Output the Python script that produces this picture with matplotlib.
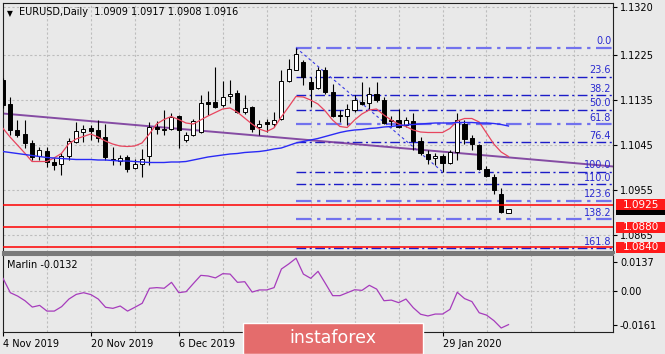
import matplotlib
matplotlib.use('Agg')
import matplotlib.pyplot as plt
import matplotlib.transforms as mtransforms
from matplotlib.patches import Rectangle

# EURUSD daily bars, 4 Nov 2019 .. 11 Feb 2020
opens = [1.1174, 1.1127, 1.1074, 1.1066, 1.1049, 1.1023, 1.1033, 1.1011, 1.1006, 1.1023,
         1.1051, 1.1070, 1.1079, 1.1074, 1.1059, 1.1017, 1.1013, 1.1019, 1.0998, 1.1007,
         1.1022, 1.1081, 1.1074, 1.1077, 1.1102, 1.1055, 1.1064, 1.1071, 1.1131, 1.1131,
         1.1124, 1.1143, 1.1149, 1.1111, 1.1119, 1.1081, 1.1091, 1.1086, 1.1097, 1.1173,
         1.1195, 1.1211, 1.1171, 1.1159, 1.1194, 1.1151, 1.1104, 1.1102, 1.1114, 1.1131,
         1.1129, 1.1147, 1.1134, 1.1095, 1.1095, 1.1084, 1.1093, 1.1053, 1.1027, 1.1019,
         1.1022, 1.1009, 1.1031, 1.1087, 1.1059, 1.1044, 1.0997, 1.0981, 1.0946, 1.0909]
highs = [1.1178, 1.1141, 1.1094, 1.1094, 1.1054, 1.1040, 1.1041, 1.1021, 1.1028, 1.1058,
         1.1091, 1.1084, 1.1084, 1.1095, 1.1087, 1.1041, 1.1024, 1.1024, 1.1017, 1.1037,
         1.1091, 1.1093, 1.1115, 1.1109, 1.1104, 1.1071, 1.1097, 1.1144, 1.1152, 1.1200,
         1.1173, 1.1174, 1.1154, 1.1144, 1.1122, 1.1094, 1.1097, 1.1111, 1.1194, 1.1217,
         1.1239, 1.1215, 1.1181, 1.1201, 1.1201, 1.1167, 1.1115, 1.1127, 1.1144, 1.1171,
         1.1161, 1.1171, 1.1141, 1.1102, 1.1117, 1.1101, 1.1109, 1.1061, 1.1035, 1.1029,
         1.1026, 1.1034, 1.1109, 1.1094, 1.1064, 1.1047, 1.1002, 1.0986, 1.0959, 1.0917]
lows = [1.1118, 1.1064, 1.1060, 1.1038, 1.1014, 1.1014, 1.1001, 1.0994, 1.0984, 1.1014,
        1.1049, 1.1051, 1.1054, 1.1051, 1.1014, 1.1004, 1.1004, 1.0991, 1.0997, 1.0981,
        1.1004, 1.1067, 1.1064, 1.1074, 1.1039, 1.1051, 1.1062, 1.1069, 1.1104, 1.1118,
        1.1121, 1.1129, 1.1109, 1.1106, 1.1071, 1.1064, 1.1071, 1.1081, 1.1094, 1.1171,
        1.1194, 1.1164, 1.1121, 1.1157, 1.1147, 1.1101, 1.1091, 1.1084, 1.1111, 1.1124,
        1.1117, 1.1131, 1.1087, 1.1081, 1.1079, 1.1081, 1.1035, 1.1024, 1.1007, 1.1004,
        1.0991, 1.1007, 1.1014, 1.1047, 1.1034, 1.0995, 1.0981, 1.0947, 1.0909, 1.0908]
closes = [1.1124, 1.1074, 1.1064, 1.1049, 1.1021, 1.1034, 1.1011, 1.1005, 1.1023, 1.1053,
          1.1073, 1.1077, 1.1072, 1.1058, 1.1021, 1.1014, 1.1019, 1.0997, 1.1007, 1.1017,
          1.1079, 1.1077, 1.1077, 1.1101, 1.1074, 1.1064, 1.1092, 1.1129, 1.1127, 1.1121,
          1.1141, 1.1147, 1.1111, 1.1119, 1.1077, 1.1086, 1.1087, 1.1095, 1.1173, 1.1197,
          1.1227, 1.1181, 1.1157, 1.1194, 1.1151, 1.1102, 1.1103, 1.1117, 1.1134, 1.1127,
          1.1147, 1.1134, 1.1089, 1.1093, 1.1081, 1.1094, 1.1053, 1.1029, 1.1017, 1.1022,
          1.1009, 1.1031, 1.1094, 1.1057, 1.1047, 1.0997, 1.0982, 1.0954, 1.0911, 1.0916]

ma_red = [1.1078, 1.1060, 1.1044, 1.1028, 1.1011, 1.1011, 1.1011, 1.1018, 1.1027, 1.1046,
          1.1056, 1.1061, 1.1066, 1.1060, 1.1052, 1.1046, 1.1042, 1.1041, 1.1042, 1.1048,
          1.1066, 1.1086, 1.1095, 1.1101, 1.1095, 1.1088, 1.1086, 1.1094, 1.1102, 1.1109,
          1.1116, 1.1118, 1.1110, 1.1098, 1.1086, 1.1076, 1.1071, 1.1078, 1.1100, 1.1120,
          1.1141, 1.1140, 1.1134, 1.1126, 1.1112, 1.1094, 1.1081, 1.1079, 1.1094, 1.1106,
          1.1114, 1.1116, 1.1104, 1.1094, 1.1086, 1.1081, 1.1074, 1.1070, 1.1069, 1.1069,
          1.1069, 1.1077, 1.1092, 1.1097, 1.1097, 1.1090, 1.1068, 1.1046, 1.1030, 1.1021]
ma_blue = [1.1031, 1.1029, 1.1027, 1.1025, 1.1023, 1.1021, 1.1019, 1.1018, 1.1017, 1.1016,
           1.1015, 1.1015, 1.1015, 1.1014, 1.1014, 1.1013, 1.1012, 1.1012, 1.1011, 1.1010,
           1.1009, 1.1009, 1.1009, 1.1010, 1.1010, 1.1011, 1.1014, 1.1017, 1.1020, 1.1022,
           1.1024, 1.1026, 1.1027, 1.1029, 1.1030, 1.1031, 1.1033, 1.1036, 1.1038, 1.1043,
           1.1048, 1.1051, 1.1054, 1.1057, 1.1061, 1.1065, 1.1069, 1.1072, 1.1074, 1.1075,
           1.1077, 1.1078, 1.1080, 1.1081, 1.1083, 1.1084, 1.1085, 1.1086, 1.1087, 1.1088,
           1.1088, 1.1088, 1.1089, 1.1089, 1.1089, 1.1088, 1.1088, 1.1087, 1.1085, 1.1082]
marlin = [0.0060, -0.0008, -0.0024, -0.0046, -0.0076, -0.0068, -0.0095, -0.0095, -0.0074, -0.0038,
          -0.0016, -0.0008, -0.0017, -0.0038, -0.0077, -0.0082, -0.0071, -0.0095, -0.0077, -0.0058,
          0.0013, 0.0016, 0.0013, 0.0041, -0.0008, -0.0003, 0.0036, 0.0074, 0.0071, 0.0062,
          0.0082, 0.0080, 0.0041, 0.0044, -0.0005, 0.0005, 0.0005, 0.0016, 0.0104, 0.0128,
          0.0155, 0.0080, 0.0060, 0.0093, 0.0036, -0.0022, -0.0022, -0.0008, 0.0006, 0.0003,
          0.0027, 0.0009, -0.0046, -0.0043, -0.0055, -0.0038, -0.0079, -0.0110, -0.0118, -0.0109,
          -0.0109, -0.0087, -0.0006, -0.0036, -0.0050, -0.0103, -0.0114, -0.0140, -0.0175, -0.0159]

# date ticks every 12 bars; the two under the watermark are not visible
date_idx = [0, 12, 24, 36, 48, 60]
date_labels = ['4 Nov 2019', '20 Nov 2019', '6 Dec 2019', '', '', '29 Jan 2020']
price_ticks = [1.1320, 1.1225, 1.1135, 1.1045, 1.0955, 1.0865]
marlin_ticks = [0.0137, 0.0, -0.0161]
marlin_tick_labels = ['0.0137', '0.00', '-0.0161']

# fibonacci from the 31 Dec high to the 29 Jan low
fib_start, fib_end = 40, 60
fib_high, fib_low = 1.12386, 1.09906
fib_levels = [0.0, 23.6, 38.2, 50.0, 61.8, 76.4, 100.0, 110.0, 123.6, 138.2, 161.8]
fib_light = [0.0, 61.8, 123.6, 138.2]

trend_idx = [0, 83.3]
trend_price = [1.1107, 1.1001]
red_levels = [1.0925, 1.0880, 1.0840]
last_price = 1.0916

bg = '#e9e9e9'
fig = plt.figure(figsize=(6.65, 3.54), dpi=100, facecolor=bg)
W, H = 665, 354
ax = fig.add_axes([3 / W, (H - 252) / H, 610 / W, 249 / H], facecolor=bg)
ax2 = fig.add_axes([3 / W, (H - 332) / H, 610 / W, 77 / H], facecolor=bg)

n = len(opens)
xs = list(range(n))
x0, x1 = 0.04, 83.26
for a in (ax, ax2):
    a.set_xlim(x0, x1)
    for g in range(6, 84, 6):
        a.axvline(g, color='#bdbdbd', lw=0.8, ls=(0, (2, 2)), zorder=0)
ax.set_ylim(1.0830, 1.1328)
ax2.set_ylim(-0.01939, 0.01703)

# grid
for p in price_ticks:
    ax.axhline(p, color='#bdbdbd', lw=0.8, ls=(0, (2, 2)), zorder=0)
ax2.axhline(0.0, color='#bdbdbd', lw=0.8, ls=(0, (2, 2)), zorder=0)

# fibonacci levels
span = fib_high - fib_low
tr = mtransforms.blended_transform_factory(ax.transAxes, ax.transData)
for lv in fib_levels:
    price = fib_high - lv / 100 * span
    light = lv in fib_light
    ax.plot([fib_start, x1], [price, price], color='#7272ee' if light else '#1c1cc8',
            lw=1.6 if light else 1.0, ls=(0, (7, 2.5, 1.5, 2.5)), zorder=1, solid_capstyle='butt')
    ax.text(0.997, price + 0.0003, f'{lv:.1f}', transform=tr,
            ha='right', va='bottom', fontsize=7, color='#2a2ad0', zorder=6)
ax.plot([fib_start, fib_end], [fib_high, fib_low], color='#3a3ae6', lw=0.8, ls=(0, (2.5, 2.5)), zorder=1)

# trend line
ax.plot(trend_idx, trend_price, color='#7a3a9c', lw=1.4, zorder=2, alpha=0.9)

# candles
for i in xs:
    o, h, l, c = opens[i], highs[i], lows[i], closes[i]
    ax.vlines(i, l, h, color='black', lw=0.8, zorder=3)
    lo, hi = min(o, c), max(o, c)
    ax.bar(i, max(hi - lo, 0.00008), bottom=lo, width=0.56,
           color='black' if c < o else 'white', edgecolor='black', linewidth=0.7, zorder=4)

# moving averages
ax.plot(xs, ma_red, color='#e8455e', lw=0.9, zorder=5)
ax.plot(xs, ma_blue, color='#2a2af5', lw=1.0, zorder=5)

# support levels
for p in red_levels:
    ax.axhline(p, color='#ff0000', lw=1.1, zorder=5)

# price scale
ax.yaxis.tick_right()
ax.set_yticks(price_ticks)
ax.set_yticklabels([f'{p:.4f}' for p in price_ticks])
ax.tick_params(axis='y', length=3, width=0.8, pad=2, labelsize=7)
ax.set_xticks([])

box_h = 0.0022
box_x = 1.005
box_w = (665 - 616) / 610
ax.add_patch(Rectangle((box_x, last_price - box_h / 2), box_w, box_h, transform=tr,
                       facecolor='black', edgecolor='none', clip_on=False, zorder=7))
for p in red_levels:
    ax.add_patch(Rectangle((box_x, p - box_h / 2), box_w, box_h, transform=tr,
                           facecolor='#ff1a1a', edgecolor='none', clip_on=False, zorder=8))
    ax.text(box_x + box_w / 2, p, f'{p:.4f}', transform=tr, ha='center', va='center',
            fontsize=7.5, color='white', zorder=9, clip_on=False)

for s in ax.spines.values():
    s.set_color('#202020')
    s.set_linewidth(0.8)
ax.spines['bottom'].set_color('#7a7a7a')
ax.spines['bottom'].set_linewidth(2.2)

# Marlin oscillator
ax2.plot(xs, marlin, color='#a63cbc', lw=0.9, zorder=3)
ax2.yaxis.tick_right()
ax2.set_yticks(marlin_ticks)
ax2.set_yticklabels(marlin_tick_labels)
ax2.tick_params(axis='y', length=3, width=0.8, pad=2, labelsize=7)
ax2.set_xticks(date_idx)
ax2.set_xticklabels(date_labels)
ax2.tick_params(axis='x', length=3, width=0.8, pad=2, labelsize=7)
for lbl in ax2.get_xticklabels():
    lbl.set_ha('left')
for s in ax2.spines.values():
    s.set_color('#202020')
    s.set_linewidth(0.8)
ax2.spines['top'].set_color('#7a7a7a')
ax2.spines['top'].set_linewidth(1.5)

ax.text(0.006, 0.975, '\u25bc', transform=ax.transAxes, fontsize=5.5, va='top', ha='left')
ax.text(0.027, 0.982, 'EURUSD,Daily  1.0909 1.0917 1.0908 1.0916', transform=ax.transAxes,
        fontsize=7, va='top', ha='left')
ax2.text(0.007, 0.93, 'Marlin -0.0132', transform=ax2.transAxes, fontsize=7, va='top', ha='left')

# watermark
fig.patches.append(Rectangle((243 / W, 0), 180 / W, 31.5 / H, transform=fig.transFigure,
                             facecolor='#e46c6c', edgecolor='white', lw=1.0, zorder=10))
fig.text(333 / W, 16 / H, 'instaforex', ha='center', va='center', fontsize=12.5,
         color='white', zorder=11)

fig.savefig('out.png', dpi=100, facecolor=bg)
